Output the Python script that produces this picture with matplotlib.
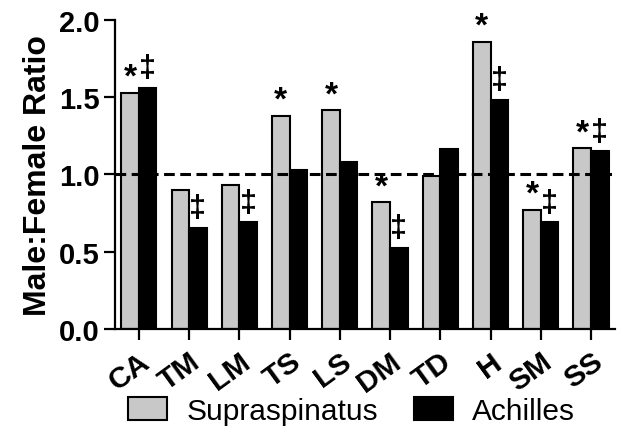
import numpy as np
import matplotlib
matplotlib.use('Agg')
import matplotlib.pyplot as plt

plt.rcParams['font.family'] = ['Liberation Sans', 'DejaVu Sans']

# data
muscles = ['CA', 'TM', 'LM', 'TS', 'LS', 'DM', 'TD', 'H', 'SM', 'SS']
supraspinatus = [1.53, 0.90, 0.935, 1.38, 1.415, 0.82, 0.99, 1.86, 0.77, 1.17]
achilles = [1.56, 0.655, 0.69, 1.03, 1.08, 0.525, 1.165, 1.485, 0.69, 1.15]
sup_marks = ['*', '', '', '*', '*', '*', '', '*', '*', '*']
ach_marks = ['\u2021', '\u2021', '\u2021', '', '', '\u2021', '', '\u2021', '\u2021', '\u2021']

fig = plt.figure(figsize=(6.17, 4.27), dpi=100)
ax = fig.add_axes([0.186, 0.227, 0.811, 0.724])

x = np.arange(len(muscles))
w = 0.35
b1 = ax.bar(x - w / 2, supraspinatus, w, color='#c8c8c8', edgecolor='black',
            linewidth=1.5, label='Supraspinatus')
b2 = ax.bar(x + w / 2, achilles, w, color='black', edgecolor='black',
            linewidth=1.5, label='Achilles')

# significance marks
for i in range(len(muscles)):
    if sup_marks[i]:
        ax.text(x[i] - w / 2, supraspinatus[i] + 0.0, sup_marks[i], ha='center',
                va='bottom', fontsize=24, fontweight='bold')
    if ach_marks[i]:
        ax.text(x[i] + w / 2, achilles[i] + 0.03, ach_marks[i], ha='center',
                va='bottom', fontsize=22, fontweight='bold')

ax.axhline(1.0, color='black', linewidth=2.2, linestyle=(0, (3.5, 1.8)))

ax.set_xlim(-0.48, len(muscles) - 0.52)
ax.set_ylim(0, 2.0)
ax.set_yticks([0.0, 0.5, 1.0, 1.5, 2.0])
ax.set_yticklabels(['0.0', '0.5', '1.0', '1.5', '2.0'], fontsize=21,
                   fontweight='bold')
ax.set_xticks(x)
ax.set_xticklabels(muscles, rotation=36, ha='right', rotation_mode='anchor',
                   fontsize=21.5, fontweight='bold')
ax.set_ylabel('Male:Female Ratio', fontsize=23, fontweight='bold', labelpad=4)

for s in ['top', 'right']:
    ax.spines[s].set_visible(False)
for s in ['left', 'bottom']:
    ax.spines[s].set_linewidth(1.6)
ax.tick_params(axis='both', length=8, width=1.6, pad=3)
ax.tick_params(axis='x', pad=5)

fig.legend(handles=[b1, b2], loc='center', bbox_to_anchor=(0.57, 0.035),
           ncol=2, frameon=False, fontsize=21.5, handlelength=1.3,
           handleheight=0.8, columnspacing=1.2, handletextpad=0.65)

fig.savefig('out.png', dpi=100)
